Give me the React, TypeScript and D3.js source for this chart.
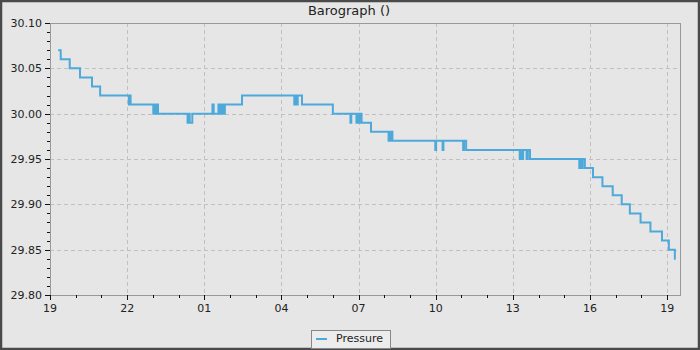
import React from "react";
import * as d3 from "d3";

const TITLE = "Barograph ()";
const SERIES_NAME = "Pressure";
const DOMAIN_START = "2023-06-01 19:00";
const DOMAIN_END = "2023-06-02 19:30";

const readingTimes = [
  "2023-06-01 19:19", "2023-06-01 19:25", "2023-06-01 19:46", "2023-06-01 20:10",
  "2023-06-01 20:38", "2023-06-01 20:57", "2023-06-01 22:04", "2023-06-01 22:06",
  "2023-06-01 22:08", "2023-06-01 23:01", "2023-06-01 23:03", "2023-06-01 23:05",
  "2023-06-01 23:08", "2023-06-01 23:12", "2023-06-02 00:21", "2023-06-02 00:24",
  "2023-06-02 00:26", "2023-06-02 00:32", "2023-06-02 01:19", "2023-06-02 01:22",
  "2023-06-02 01:33", "2023-06-02 01:36", "2023-06-02 01:40", "2023-06-02 01:44",
  "2023-06-02 01:48", "2023-06-02 02:28", "2023-06-02 04:30", "2023-06-02 04:32",
  "2023-06-02 04:35", "2023-06-02 04:38", "2023-06-02 04:48", "2023-06-02 06:00",
  "2023-06-02 06:41", "2023-06-02 06:43", "2023-06-02 06:55", "2023-06-02 06:57",
  "2023-06-02 07:00", "2023-06-02 07:03", "2023-06-02 07:07", "2023-06-02 07:29",
  "2023-06-02 08:10", "2023-06-02 08:12", "2023-06-02 08:14", "2023-06-02 08:16",
  "2023-06-02 08:19", "2023-06-02 09:59", "2023-06-02 10:01", "2023-06-02 10:16",
  "2023-06-02 10:18", "2023-06-02 11:04", "2023-06-02 11:06", "2023-06-02 11:11",
  "2023-06-02 13:16", "2023-06-02 13:18", "2023-06-02 13:22", "2023-06-02 13:24",
  "2023-06-02 13:32", "2023-06-02 13:35", "2023-06-02 13:40", "2023-06-02 15:35",
  "2023-06-02 15:37", "2023-06-02 15:41", "2023-06-02 15:43", "2023-06-02 15:48",
  "2023-06-02 16:07", "2023-06-02 16:29", "2023-06-02 16:53", "2023-06-02 17:14",
  "2023-06-02 17:33", "2023-06-02 17:58", "2023-06-02 18:21", "2023-06-02 18:48",
  "2023-06-02 19:04", "2023-06-02 19:18", "2023-06-02 19:20",
];

const pressure = [
  30.07, 30.06, 30.05, 30.04,
  30.03, 30.02, 30.01, 30.02,
  30.01, 30.00, 30.01, 30.00,
  30.01, 30.00, 29.99, 30.00,
  29.99, 30.00, 30.01, 30.00,
  30.01, 30.00, 30.01, 30.00,
  30.01, 30.02, 30.01, 30.02,
  30.01, 30.02, 30.01, 30.00,
  29.99, 30.00, 29.99, 30.00,
  29.99, 30.00, 29.99, 29.98,
  29.97, 29.98, 29.97, 29.98,
  29.97, 29.96, 29.97, 29.96,
  29.97, 29.96, 29.97, 29.96,
  29.95, 29.96, 29.95, 29.96,
  29.95, 29.96, 29.95, 29.94,
  29.95, 29.94, 29.95, 29.94,
  29.93, 29.92, 29.91, 29.90,
  29.89, 29.88, 29.87, 29.86,
  29.85, 29.84, 29.84,
];

const yMin = 29.8;
const yMax = 30.1;
const yMajorStep = 0.05;
const yMinorStep = 0.01;

export default function App() {
  const W = 700, H = 350;
  const left = 50, right = 680, top = 23, bottom = 295;
  const parse = d3.timeParse("%Y-%m-%d %H:%M");
  const t0 = parse(DOMAIN_START)!;
  const t1 = parse(DOMAIN_END)!;
  const x = d3.scaleTime().domain([t0, t1]).range([left, right]);
  const y = d3.scaleLinear().domain([yMin, yMax]).range([bottom, top]);

  const data = readingTimes.map((t, i) => ({ t: parse(t)!, v: pressure[i] }));
  const line = d3
    .line<{ t: Date; v: number }>()
    .x((d) => x(d.t))
    .y((d) => y(d.v))
    .curve(d3.curveStepAfter);

  const hours = d3.timeHour.range(t0, d3.timeMinute.offset(t1, 1));
  const majorX = hours.filter((_, i) => i % 3 === 0);
  const fmtH = d3.timeFormat("%H");

  const nMinor = Math.round((yMax - yMin) / yMinorStep);
  const minorY = d3.range(nMinor + 1).map((i) => yMin + i * yMinorStep);
  const nMajor = Math.round((yMax - yMin) / yMajorStep);
  const majorY = d3.range(nMajor + 1).map((i) => yMin + i * yMajorStep);

  const font = "DejaVu Sans, sans-serif";
  const axisColor = "#999999";
  const gridColor = "#c0c0c0";
  const textColor = "#222222";

  return (
    <div style={{ position: "fixed", left: 0, top: 0, width: W, height: H }}>
      <svg width={W} height={H} style={{ display: "block" }}>
        <rect x={0} y={0} width={W} height={H} fill="#e6e6e6" />
        <rect x={1} y={1} width={W - 2} height={H - 2} fill="none" stroke="#4a4a4a" strokeWidth={2.5} />
        <text x={349} y={15} textAnchor="middle" fontFamily={font} fontSize={13} fill={textColor}>
          {TITLE}
        </text>

        {/* grid */}
        {majorY
          .filter((v) => v > yMin + 1e-9 && v < yMax - 1e-9)
          .map((v, i) => (
            <line key={"gy" + i} x1={left} x2={right} y1={Math.round(y(v)) + 0.5} y2={Math.round(y(v)) + 0.5}
              stroke={gridColor} strokeDasharray="4,3" />
          ))}
        {majorX
          .filter((d) => x(d) > left + 1)
          .map((d, i) => (
            <line key={"gx" + i} x1={Math.round(x(d)) + 0.5} x2={Math.round(x(d)) + 0.5} y1={top} y2={bottom}
              stroke={gridColor} strokeDasharray="4,3" />
          ))}

        {/* frame */}
        <rect x={left + 0.5} y={top + 0.5} width={right - left} height={bottom - top} fill="none" stroke={axisColor} strokeWidth={1} />

        {/* y ticks */}
        {minorY.map((v, i) => (
          <line key={"my" + i} x1={left - 3} x2={left} y1={Math.round(y(v)) + 0.5} y2={Math.round(y(v)) + 0.5} stroke="#111" />
        ))}
        {majorY.map((v, i) => (
          <g key={"My" + i}>
            <line x1={left - 5} x2={left} y1={Math.round(y(v)) + 0.5} y2={Math.round(y(v)) + 0.5} stroke="#111" />
            <text x={left - 8} y={y(v)} dy="0.35em" textAnchor="end" fontFamily={font} fontSize={11} fill={textColor}>
              {d3.format(".2f")(v)}
            </text>
          </g>
        ))}

        {/* x ticks */}
        {hours.map((d, i) => (
          <line key={"mx" + i} x1={Math.round(x(d)) + 0.5} x2={Math.round(x(d)) + 0.5} y1={bottom} y2={bottom + 3} stroke="#111" />
        ))}
        {majorX.map((d, i) => (
          <g key={"Mx" + i}>
            <line x1={Math.round(x(d)) + 0.5} x2={Math.round(x(d)) + 0.5} y1={bottom} y2={bottom + 5} stroke="#111" />
            <text x={x(d)} y={312} textAnchor="middle" fontFamily={font} fontSize={11} fill={textColor}>
              {fmtH(d)}
            </text>
          </g>
        ))}

        {/* series */}
        <path d={line(data) || ""} fill="none" stroke="#4ea9db" strokeWidth={2} />

        {/* legend */}
        <rect x={311.5} y={330.5} width={79} height={18} fill="#ececec" stroke="#888" />
        <line x1={316} x2={327} y1={339} y2={339} stroke="#4ea9db" strokeWidth={2} />
        <text x={336} y={342} fontFamily={font} fontSize={11} fill={textColor}>
          {SERIES_NAME}
        </text>
      </svg>
    </div>
  );
}
